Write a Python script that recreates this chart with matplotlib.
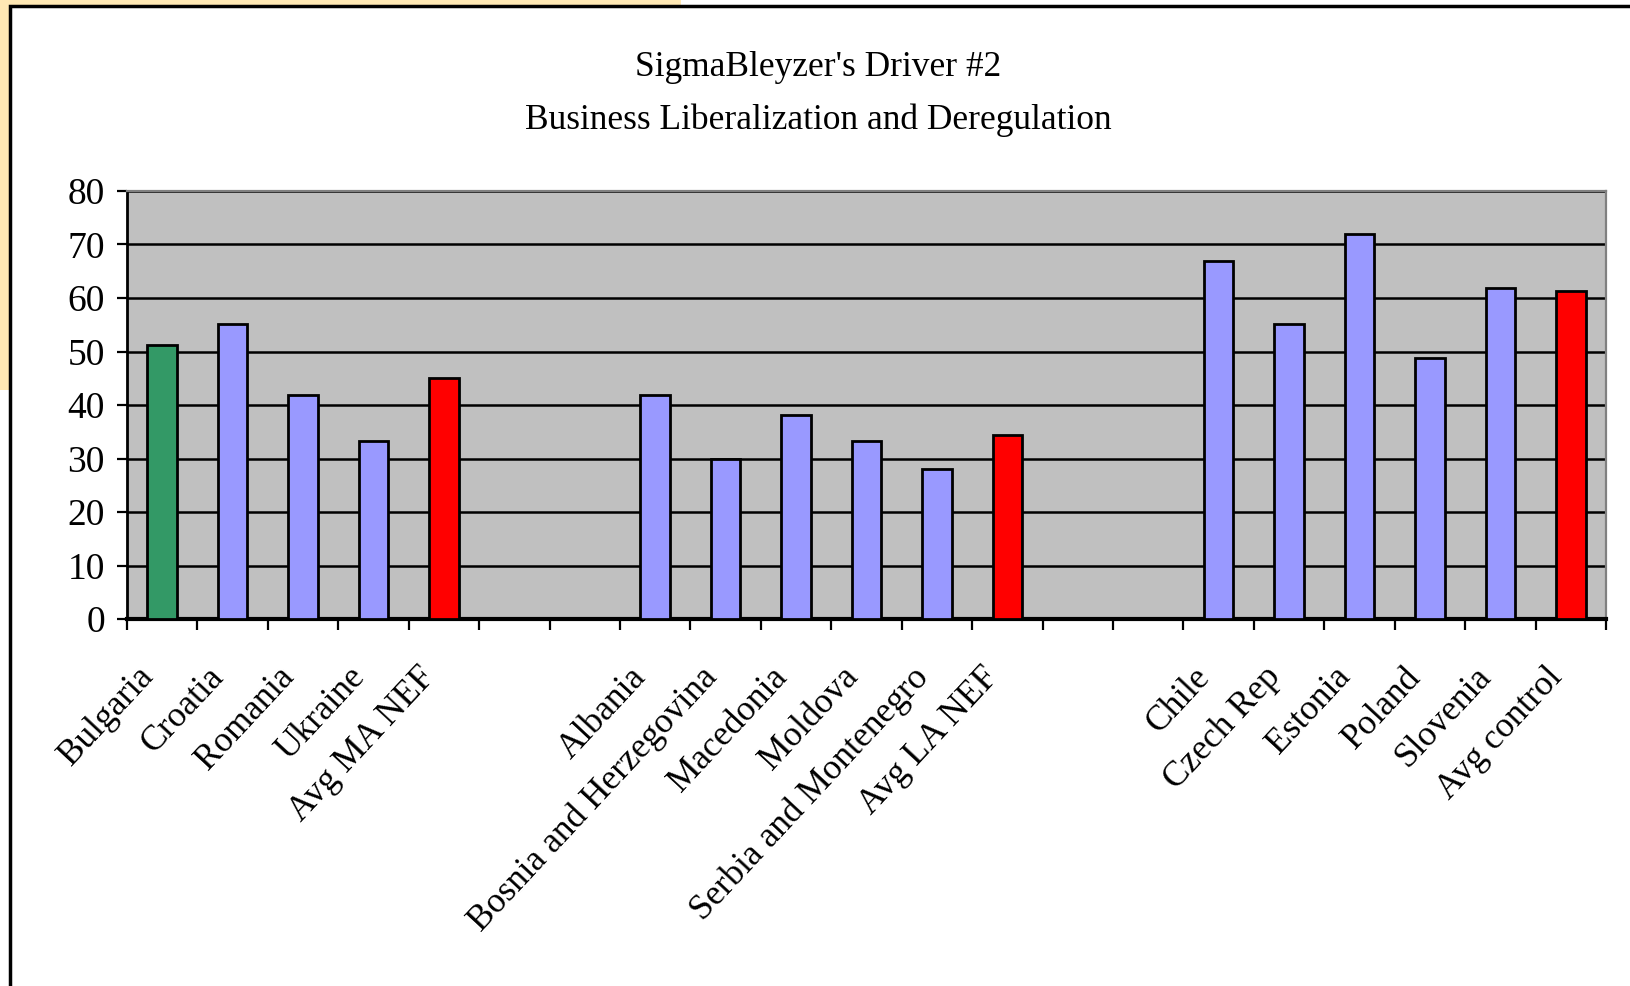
import numpy as np
import matplotlib
matplotlib.use('Agg')
import matplotlib.pyplot as plt
import matplotlib.transforms as mtransforms
from matplotlib.patches import Rectangle

# chart data ('' = empty slot between groups)
categories = ['Bulgaria', 'Croatia', 'Romania', 'Ukraine', 'Avg MA NEF', '', '',
              'Albania', 'Bosnia and Herzegovina', 'Macedonia', 'Moldova',
              'Serbia and Montenegro', 'Avg LA NEF', '', '',
              'Chile', 'Czech Rep', 'Estonia', 'Poland', 'Slovenia', 'Avg control']
scores = [51.2, 55.1, 41.9, 33.2, 45.0, np.nan, np.nan,
          41.9, 29.9, 38.2, 33.2, 28.1, 34.4, np.nan, np.nan,
          67.0, 55.1, 72.0, 48.7, 61.9, 61.3]
highlight = 'Bulgaria'
title_lines = ["SigmaBleyzer's Driver #2", 'Business Liberalization and Deregulation']
y_ticks = [0, 10, 20, 30, 40, 50, 60, 70, 80]

plt.rcParams['font.family'] = ['Liberation Serif', 'DejaVu Serif']

W, H = 1630, 986
fig = plt.figure(figsize=(W / 100, H / 100), dpi=100)

# cream slide box behind and white chart frame
fig.patches.append(Rectangle((0, 1 - 390 / H), 681 / W, 390 / H, transform=fig.transFigure,
                             facecolor='#FFE8B4', edgecolor='none', zorder=-3))
fig.patches.append(Rectangle((9.5 / W, -0.1), 1.2, 1.1 - 5.5 / H, transform=fig.transFigure,
                             facecolor='white', edgecolor='black', linewidth=2.5, zorder=-2))

ax = fig.add_axes([127 / W, (H - 619) / H, (1606 - 127) / W, (619 - 191) / H])
ax.set_facecolor('#C0C0C0')

x = np.arange(len(categories))
colors = []
for c in categories:
    if c == highlight:
        colors.append('#339966')
    elif c.startswith('Avg'):
        colors.append('#FF0000')
    else:
        colors.append('#9999FF')

ax.bar(x, scores, width=0.42, color=colors, edgecolor='black', linewidth=2, zorder=3)

ax.set_xlim(-0.5, len(categories) - 0.5)
ax.set_ylim(0, 80)
ax.set_yticks(y_ticks)
ax.yaxis.grid(True, color='black', linewidth=1.8, zorder=1)
ax.set_axisbelow(True)

ax.set_xticks(x)
ax.set_xticklabels(categories, rotation=47, ha='right', rotation_mode='anchor', fontsize=25.5)
ax.set_xticks(np.arange(len(categories) + 1) - 0.5, minor=True)
ax.tick_params(axis='x', which='major', length=0, pad=30)
ax.tick_params(axis='x', which='minor', length=8, width=1.6, color='black', direction='out')
ax.tick_params(axis='y', length=7, width=1.6, direction='out', pad=9, labelsize=27)

shift = mtransforms.ScaledTranslation(-0.26, 0, fig.dpi_scale_trans)
for lbl in ax.get_xticklabels():
    lbl.set_transform(lbl.get_transform() + shift)

for side in ['top', 'right']:
    ax.spines[side].set_color('#808080')
    ax.spines[side].set_linewidth(1.6)
ax.spines['left'].set_linewidth(2)
ax.spines['bottom'].set_linewidth(3)

fig.text(0.502, 1 - 67 / H, title_lines[0], ha='center', va='center', fontsize=25.5)
fig.text(0.502, 1 - 120 / H, title_lines[1], ha='center', va='center', fontsize=25.5)

fig.savefig('out.png', dpi=100)
